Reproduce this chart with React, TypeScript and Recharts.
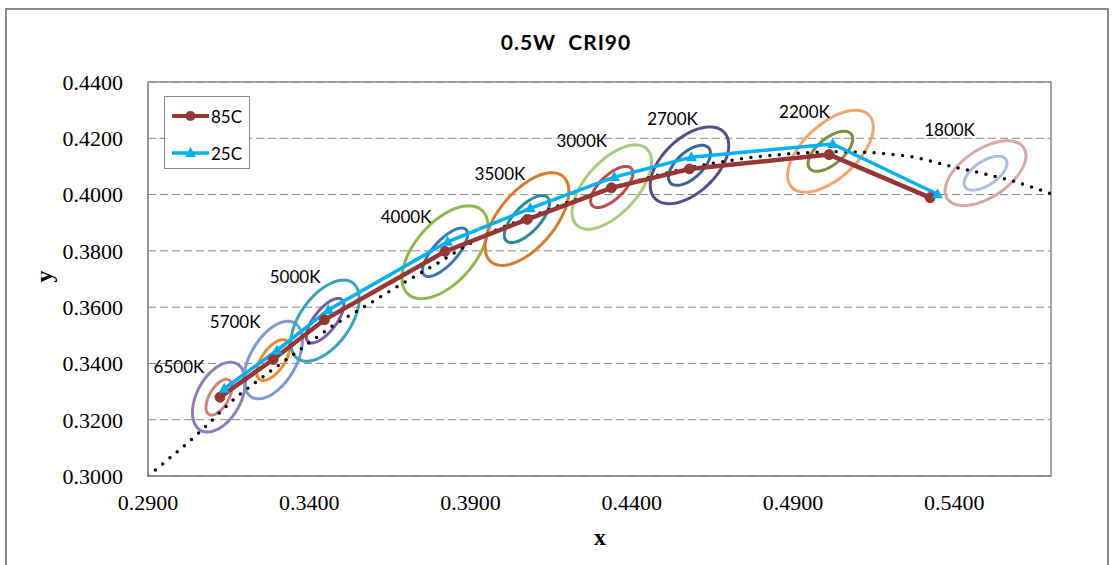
import React from 'react';
import * as R from 'recharts';
import { ComposedChart, Line, XAxis, YAxis, CartesianGrid, Customized } from 'recharts';

const cctLabels = ['6500K', '5700K', '5000K', '4000K', '3500K', '3000K', '2700K', '2200K', '1800K'];

// chromaticity at 85C and 25C
const x85 = [0.3123, 0.3288, 0.3447, 0.3821, 0.4076, 0.4337, 0.4579, 0.5012, 0.5325];
const y85 = [0.3280, 0.3414, 0.3555, 0.3798, 0.3912, 0.4024, 0.4091, 0.4142, 0.3989];
const x25 = [0.3136, 0.3300, 0.3459, 0.3829, 0.4085, 0.4346, 0.4585, 0.5023, 0.5348];
const y25 = [0.3310, 0.3446, 0.3590, 0.3832, 0.3951, 0.4062, 0.4133, 0.4180, 0.4001];

// black body locus (dotted)
const locusX = [0.2900, 0.3061, 0.3169, 0.3263, 0.3376, 0.3475, 0.3557, 0.3666, 0.3796, 0.3951, 0.4106, 0.4199, 0.4333, 0.4452, 0.4632, 0.4839, 0.5046, 0.5255, 0.5376, 0.5599, 0.5700];
const locusY = [0.3000, 0.3157, 0.3275, 0.3358, 0.3453, 0.3535, 0.3592, 0.3668, 0.3755, 0.3859, 0.3930, 0.3971, 0.4018, 0.4060, 0.4107, 0.4140, 0.4152, 0.4137, 0.4104, 0.4042, 0.4003];

// ellipse centres and conjugate semi-axes (x, y units)
const ellX = [0.3120, 0.3288, 0.3449, 0.3821, 0.4075, 0.4338, 0.4579, 0.5016, 0.5497];
const ellY = [0.3280, 0.3412, 0.3552, 0.3795, 0.3913, 0.4027, 0.4104, 0.4154, 0.4076];
const outerMajor = [[0.00562, 0.01182], [0.00666, 0.01317], [0.00856, 0.01345], [0.01138, 0.01497], [0.01116, 0.01519], [0.01079, 0.01366], [0.01070, 0.01179], [0.01200, 0.01278], [0.01182, 0.00910]];
const outerMinor = [[-0.00599, 0.00372], [-0.00617, 0.00407], [-0.00626, 0.00520], [-0.00701, 0.00697], [-0.00664, 0.00637], [-0.00598, 0.00616], [-0.00583, 0.00687], [-0.00571, 0.00697], [-0.00416, 0.00704]];
const innerMajor = [[0.00310, 0.00613], [0.00421, 0.00687], [0.00515, 0.00754], [0.00642, 0.00814], [0.00636, 0.00775], [0.00601, 0.00665], [0.00589, 0.00627], [0.00642, 0.00616], [0.00633, 0.00489]];
const innerMinor = [[-0.00258, 0.00170], [-0.00288, 0.00230], [-0.00270, 0.00241], [-0.00276, 0.00283], [-0.00295, 0.00315], [-0.00258, 0.00304], [-0.00276, 0.00336], [-0.00260, 0.00354], [-0.00208, 0.00350]];

const xTicks = [0.29, 0.34, 0.39, 0.44, 0.49, 0.54];
const yTicks = [0.30, 0.32, 0.34, 0.36, 0.38, 0.40, 0.42, 0.44];
const X_DOMAIN: [number, number] = [0.29, 0.57];
const Y_DOMAIN: [number, number] = [0.30, 0.44];

const outerColors = ['#8F7DB9', '#7C9AD0', '#3AA3B8', '#8DB84C', '#D67B2E', '#A9CB7C', '#5E4A88', '#F7A56E', '#D9A7A5'];
const innerColors = ['#D3817D', '#EE8C35', '#7A5CA6', '#3F76B9', '#2F8898', '#BA4C49', '#3A6598', '#77943D', '#A9BFDD'];
const labelOffsets = [[-40, -31], [-38, -39], [-30, -44], [-39, -36], [-27, -46], [-30, -46], [-17, -47], [-26, -40], [-36, -44]];

const RED = '#953735';
const BLUE = '#00B0F0';
const GRAY = '#898989';

const data85 = x85.map((x, i) => ({ x, y: y85[i] }));
const data25 = x25.map((x, i) => ({ x, y: y25[i] }));
const locusData = locusX.map((x, i) => ({ x, y: locusY[i] }));

const Rx: any = R;
const hasScaleHooks = typeof Rx.useXAxisScale === 'function' && typeof Rx.useYAxisScale === 'function';

function useToPixel(): ((x: number, y: number) => [number, number]) | null {
  if (hasScaleHooks) {
    const xs = Rx.useXAxisScale();
    const ys = Rx.useYAxisScale();
    if (!xs || !ys) return null;
    return (x, y) => [xs(x), ys(y)];
  }
  const area = Rx.usePlotArea ? Rx.usePlotArea() : null;
  if (!area) return null;
  return (x, y) => [
    area.x + ((x - X_DOMAIN[0]) / (X_DOMAIN[1] - X_DOMAIN[0])) * area.width,
    area.y + ((Y_DOMAIN[1] - y) / (Y_DOMAIN[1] - Y_DOMAIN[0])) * area.height,
  ];
}

function ellipsePath(toPx: (x: number, y: number) => [number, number], i: number, major: number[][], minor: number[][]) {
  const [cx, cy] = toPx(ellX[i], ellY[i]);
  const [ux, uy] = toPx(ellX[i] + major[i][0], ellY[i] + major[i][1]);
  const [vx, vy] = toPx(ellX[i] + minor[i][0], ellY[i] + minor[i][1]);
  const a = [ux - cx, uy - cy];
  const b = [vx - cx, vy - cy];
  let d = '';
  for (let k = 0; k <= 72; k++) {
    const t = (k / 72) * Math.PI * 2;
    const px = cx + Math.cos(t) * a[0] + Math.sin(t) * b[0];
    const py = cy + Math.cos(t) * a[1] + Math.sin(t) * b[1];
    d += (k === 0 ? 'M' : 'L') + px.toFixed(2) + ',' + py.toFixed(2);
  }
  return d + 'Z';
}

const EllipseLayer = () => {
  const toPx = useToPixel();
  if (!toPx) return null;
  const [x0, y1] = toPx(X_DOMAIN[0], Y_DOMAIN[1]);
  const [x1, y0] = toPx(X_DOMAIN[1], Y_DOMAIN[0]);
  return (
    <g>
      <rect x={x0} y={y1} width={x1 - x0} height={y0 - y1} fill="none" stroke={GRAY} strokeWidth={1.5} />
      {cctLabels.map((label, i) => (
        <g key={label}>
          <path d={ellipsePath(toPx, i, outerMajor, outerMinor)} fill="none" stroke={outerColors[i]} strokeWidth={3} />
          <path d={ellipsePath(toPx, i, innerMajor, innerMinor)} fill="none" stroke={innerColors[i]} strokeWidth={3} />
        </g>
      ))}
      {cctLabels.map((label, i) => {
        const [cx, cy] = toPx(ellX[i], ellY[i]);
        return (
          <text key={'t' + label} x={cx + labelOffsets[i][0]} y={cy + labelOffsets[i][1]} textAnchor="middle" dominantBaseline="central"
            fontFamily="Lato, sans-serif" fontSize={17} fill="#000">
            {label}
          </text>
        );
      })}
    </g>
  );
};

const CircleDot = (props: any) => {
  const { cx, cy, index } = props;
  return <circle key={'c' + index} cx={cx} cy={cy} r={5} fill={RED} stroke={RED} />;
};

const TriangleDot = (props: any) => {
  const { cx, cy, index } = props;
  return <polygon key={'tr' + index} points={`${cx},${cy - 6} ${cx + 5.5},${cy + 4} ${cx - 5.5},${cy + 4}`} fill={BLUE} />;
};

const fmt = (v: number) => v.toFixed(4);

export default function App() {
  return (
    <div style={{ position: 'absolute', left: 0, top: 0, width: 1112, height: 565, overflow: 'hidden', background: '#fff' }}>
      <div style={{ position: 'absolute', left: 5, top: 8, width: 1104, height: 620, border: `2px solid ${GRAY}`, boxSizing: 'border-box' }} />
      <div style={{ position: 'absolute', left: 0, top: 0 }}>
        <ComposedChart width={1112} height={565} margin={{ top: 82, right: 61, bottom: 0, left: 0 }}>
          <CartesianGrid vertical={false} stroke={GRAY} strokeDasharray="8 4" />
          <XAxis type="number" dataKey="x" domain={X_DOMAIN} ticks={xTicks} tickFormatter={fmt} allowDataOverflow
            height={89} tickLine={false} tickSize={0} tickMargin={18} axisLine={{ stroke: GRAY }}
            tick={{ fill: '#000', fontFamily: '"Liberation Serif", serif', fontSize: 22 }} />
          <YAxis type="number" dataKey="y" domain={Y_DOMAIN} ticks={yTicks} tickFormatter={fmt} allowDataOverflow
            width={148} tickLine={false} tickSize={0} tickMargin={25} axisLine={{ stroke: GRAY }}
            tick={{ fill: '#000', fontFamily: '"Liberation Serif", serif', fontSize: 22 }} />
          <Customized component={EllipseLayer} />
          <Line data={locusData} dataKey="y" type="monotone" stroke="#000" strokeWidth={3.5} strokeDasharray="0 9.5"
            strokeLinecap="round" dot={false} activeDot={false} isAnimationActive={false} />
          <Line data={data85} dataKey="y" name="85C" type="linear" stroke={RED} strokeWidth={4.5}
            dot={CircleDot} activeDot={false} isAnimationActive={false} />
          <Line data={data25} dataKey="y" name="25C" type="linear" stroke={BLUE} strokeWidth={3.5}
            dot={TriangleDot} activeDot={false} isAnimationActive={false} />
        </ComposedChart>
      </div>
      <div style={{ position: 'absolute', left: 0, width: 1132, top: 29, textAlign: 'center', fontFamily: 'Lato, sans-serif', fontWeight: 700, fontSize: 21, letterSpacing: 1, whiteSpace: 'pre' }}>
        0.5W  CRI90
      </div>
      <div style={{ position: 'absolute', left: 594, top: 524, fontFamily: '"Liberation Serif", serif', fontWeight: 700, fontSize: 24 }}>x</div>
      <div style={{ position: 'absolute', left: 38, top: 263, fontFamily: '"Liberation Serif", serif', fontWeight: 700, fontSize: 24, transform: 'rotate(-90deg)' }}>y</div>
      <div style={{ position: 'absolute', left: 164, top: 96, width: 86, height: 73, border: `1px solid ${GRAY}`, boxSizing: 'border-box', background: '#fff' }}>
        <svg width={86} height={73} style={{ position: 'absolute', left: 0, top: 0 }}>
          <line x1={7} x2={44} y1={19} y2={19} stroke={RED} strokeWidth={4} />
          <circle cx={25.5} cy={19} r={5} fill={RED} />
          <line x1={7} x2={44} y1={56} y2={56} stroke={BLUE} strokeWidth={3.5} />
          <polygon points="25.5,50 31,60 20,60" fill={BLUE} />
          <text x={46} y={19} dominantBaseline="central" fontFamily="Lato, sans-serif" fontSize={17}>85C</text>
          <text x={46} y={56} dominantBaseline="central" fontFamily="Lato, sans-serif" fontSize={17}>25C</text>
        </svg>
      </div>
    </div>
  );
}
